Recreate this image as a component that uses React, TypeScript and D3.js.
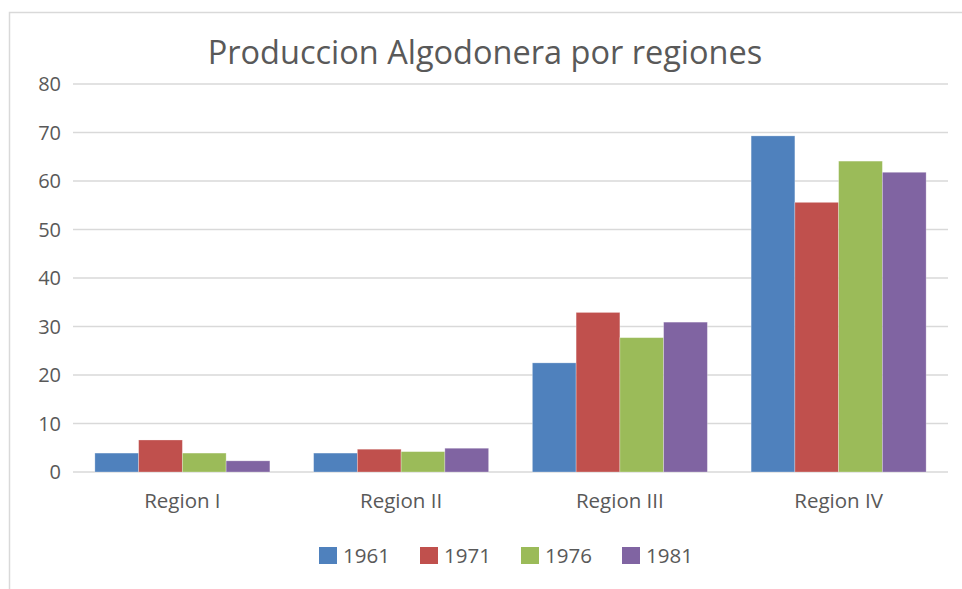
import React, { useEffect, useRef } from 'react';
import * as d3 from 'd3';

const regions = ['Region I', 'Region II', 'Region III', 'Region IV'];
const years = ['1961', '1971', '1976', '1981'];
const colors = ['#4f81bd', '#c0504d', '#9bbb59', '#8064a2'];

// values per year, in region order
const v1961 = [3.9, 3.9, 22.5, 69.3];
const v1971 = [6.6, 4.7, 32.9, 55.6];
const v1976 = [3.9, 4.2, 27.7, 64.1];
const v1981 = [2.3, 4.9, 30.9, 61.8];
const series = [v1961, v1971, v1976, v1981];

const yTicks = [0, 10, 20, 30, 40, 50, 60, 70, 80];

const FONT = '"Open Sans", "Noto Sans", sans-serif';
const TEXT = '#595959';

export default function App() {
  const svgRef = useRef<SVGSVGElement>(null);

  useEffect(() => {
    if (!svgRef.current) return;
    const svg = d3.select(svgRef.current);
    svg.selectAll('*').remove();

    const width = 962;
    const height = 589;
    const plot = { left: 73, right: 948, top: 84, bottom: 472 };

    svg.attr('width', width).attr('height', height);

    // chart frame
    svg.append('rect')
      .attr('x', 9.5)
      .attr('y', 12.5)
      .attr('width', 1000)
      .attr('height', 700)
      .attr('fill', '#fff')
      .attr('stroke', '#d9d9d9')
      .attr('stroke-width', 1.5);

    const x0 = d3.scaleBand()
      .domain(regions)
      .range([plot.left, plot.right])
      .paddingInner(0.2)
      .paddingOuter(0.1);

    const x1 = d3.scaleBand()
      .domain(years)
      .range([0, x0.bandwidth()]);

    const y = d3.scaleLinear()
      .domain([0, 80])
      .range([plot.bottom, plot.top]);

    // gridlines
    svg.append('g')
      .selectAll('line')
      .data(yTicks)
      .enter()
      .append('line')
      .attr('x1', plot.left)
      .attr('x2', plot.right)
      .attr('y1', d => y(d))
      .attr('y2', d => y(d))
      .attr('stroke', '#d9d9d9')
      .attr('stroke-width', 1.5);

    // y tick labels
    svg.append('g')
      .selectAll('text')
      .data(yTicks)
      .enter()
      .append('text')
      .attr('x', 61)
      .attr('y', d => y(d))
      .attr('dy', '0.35em')
      .attr('text-anchor', 'end')
      .style('font-family', FONT)
      .style('font-size', '20px')
      .style('fill', TEXT)
      .text(d => d);

    // bars
    regions.forEach((region, ri) => {
      const g = svg.append('g')
        .attr('transform', `translate(${x0(region)}, 0)`);
      years.forEach((year, yi) => {
        const val = series[yi][ri];
        g.append('rect')
          .attr('x', x1(year)!)
          .attr('y', y(val))
          .attr('width', x1.bandwidth())
          .attr('height', y(0) - y(val))
          .attr('fill', colors[yi])
          .attr('stroke', '#ffffff')
          .attr('stroke-opacity', 0.35)
          .attr('stroke-width', 0.8);
      });
    });

    // category labels
    svg.append('g')
      .selectAll('text')
      .data(regions)
      .enter()
      .append('text')
      .attr('x', d => x0(d)! + x0.bandwidth() / 2)
      .attr('y', 508)
      .attr('text-anchor', 'middle')
      .style('font-family', FONT)
      .style('font-size', '20.5px')
      .style('fill', TEXT)
      .text(d => d);

    // title
    svg.append('text')
      .attr('x', 485)
      .attr('y', 64)
      .attr('text-anchor', 'middle')
      .style('font-family', FONT)
      .style('font-size', '32.5px')
      .style('fill', TEXT)
      .text('Produccion Algodonera por regiones');

    // legend
    const legend = svg.append('g').attr('transform', 'translate(319, 547)');
    years.forEach((year, i) => {
      const item = legend.append('g').attr('transform', `translate(${i * 101}, 0)`);
      item.append('rect')
        .attr('width', 18)
        .attr('height', 17)
        .attr('fill', colors[i]);
      item.append('text')
        .attr('x', 24)
        .attr('y', 16)
        .style('font-family', FONT)
        .style('font-size', '20.5px')
        .style('fill', TEXT)
        .text(year);
    });
  }, []);

  return (
    <div style={{ position: 'fixed', left: 0, top: 0 }}>
      <svg ref={svgRef} style={{ display: 'block' }}></svg>
    </div>
  );
}
